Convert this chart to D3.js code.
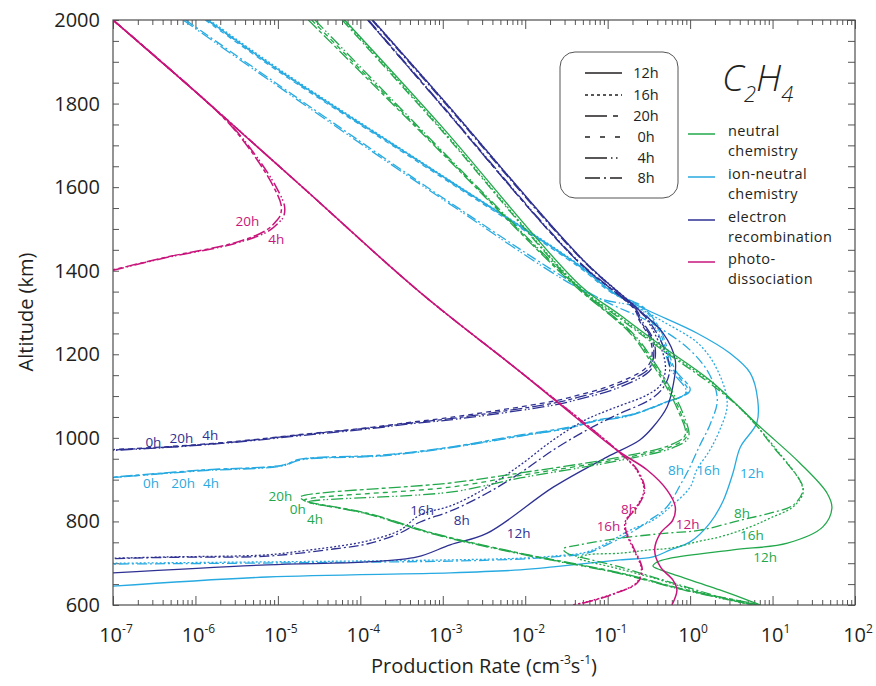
<!DOCTYPE html>
<html><head><meta charset="utf-8">
<script src="https://cdn.jsdelivr.net/npm/d3@7"></script>
<style>
body{margin:0;background:#fff}
text{font-family:'Open Sans','Noto Sans',sans-serif;fill:#231f20}
</style>
</head><body>
<svg id="c" width="876" height="686"></svg>
<script>
// ---------------- DATA ----------------
const xTickExponents = [-7,-6,-5,-4,-3,-2,-1,0,1,2];
const yTickValues = [600,800,1000,1200,1400,1600,1800,2000];
const localTimes = ["12h","16h","20h","0h","4h","8h"];
const processLabels = [["neutral","chemistry"],["ion-neutral","chemistry"],["electron","recombination"],["photo-","dissociation"]];
const speciesTitle = ["C","2","H","4"];

// points: [log10(production rate / cm^-3 s^-1), altitude km]
const neutralChemistry = [
 {time:"12h", pts:[[-4.19,2000],[-3.03,1749],[-1.34,1366],[-0.85,1294],[-0.36,1222],[0.24,1138],[0.85,1026],[1.33,940],[1.66,868],[1.72,832],[1.61,787],[1.18,748],[0.52,732],[-0.24,712],[-0.40,703],[-0.45,693],[-0.36,684],[-0.21,674],[0.36,636],[0.76,607],[0.85,600]]},
 {time:"16h", pts:[[-4.20,2000],[-3.05,1747],[-1.36,1364],[-0.85,1289],[-0.36,1217],[0.28,1129],[0.70,1052],[1.03,976],[1.34,894],[1.37,868],[1.25,835],[0.97,808],[0.73,787],[0.36,763],[0.12,753],[-0.24,736],[-0.49,732],[-0.85,724],[-1.25,720],[-1.36,712],[-1.21,703],[-0.85,686],[-0.45,665],[0.36,617],[0.78,600]]},
 {time:"8h", pts:[[-4.22,2000],[-3.06,1746],[-1.37,1363],[-0.86,1287],[-0.37,1215],[0.27,1126],[0.69,1055],[1.01,978],[1.33,899],[1.37,875],[1.25,839],[0.97,820],[0.61,803],[0.12,779],[-0.28,772],[-0.85,760],[-1.34,744],[-1.54,734],[-1.49,724],[-1.34,715],[-0.85,691],[-0.45,667],[-0.04,643],[0.36,619],[0.76,600]]},
 {time:"20h", pts:[[-4.63,2000],[-3.05,1689],[-1.44,1371],[-0.73,1251],[-0.49,1186],[-0.30,1126],[-0.15,1067],[-0.06,1007],[-0.24,983],[-0.85,954],[-2.06,916],[-2.91,892],[-4.73,858],[-4.68,850],[-4.60,845],[-3.92,820],[-3.12,772],[-2.06,724],[-0.85,677],[-0.04,636],[0.73,605],[0.85,600]]},
 {time:"0h", pts:[[-4.59,2000],[-3.02,1686],[-1.41,1368],[-0.70,1248],[-0.46,1183],[-0.27,1122],[-0.12,1063],[-0.04,1004],[-0.22,980],[-0.85,950],[-2.06,910],[-2.91,882],[-4.68,851],[-4.64,846],[-4.58,843],[-3.92,819],[-3.12,771],[-2.06,723],[-0.85,676],[-0.04,635],[0.73,604],[0.85,600]]},
 {time:"4h", pts:[[-4.55,2000],[-2.99,1683],[-1.38,1365],[-0.67,1245],[-0.43,1180],[-0.24,1119],[-0.09,1060],[-0.02,1001],[-0.20,977],[-0.85,946],[-2.06,904],[-2.91,870],[-4.62,847],[-4.60,844],[-4.55,842],[-3.92,818],[-3.12,770],[-2.06,722],[-0.85,675],[-0.04,634],[0.73,603],[0.85,600]]}
];

const ionNeutralChemistry = [
 {time:"12h", pts:[[-5.85,2000],[-4.95,1875],[-3.01,1627],[-1.32,1409],[-0.93,1347],[-0.52,1306],[0.08,1251],[0.48,1203],[0.73,1155],[0.82,1091],[0.81,1036],[0.61,978],[0.52,916],[0.40,849],[0.24,796],[0.00,751],[-0.24,732],[-0.45,715],[-0.85,708],[-1.66,691],[-2.06,684],[-2.91,677],[-5.13,667],[-7,645]]},
 {time:"16h", pts:[[-5.83,2000],[-4.93,1875],[-3.00,1627],[-1.31,1409],[-0.93,1347],[-0.36,1282],[0.12,1222],[0.36,1150],[0.45,1079],[0.36,1019],[0.24,971],[0.08,923],[0.00,882],[-0.24,835],[-0.45,803],[-0.73,779],[-1.01,748],[-1.25,727],[-1.66,717],[-2.06,712],[-2.91,708],[-7,700]]},
 {time:"8h", pts:[[-6.12,2000],[-3.01,1576],[-1.13,1337],[-0.49,1277],[0.00,1210],[0.24,1150],[0.33,1091],[0.24,1031],[0.12,983],[-0.02,923],[-0.12,887],[-0.28,835],[-0.49,803],[-0.73,772],[-1.01,744],[-1.25,724],[-1.66,715],[-2.06,710],[-2.91,705],[-7,698]]},
 {time:"20h", pts:[[-5.86,2000],[-4.96,1875],[-3.02,1627],[-1.33,1409],[-0.93,1347],[-0.57,1313],[-0.36,1258],[-0.27,1210],[-0.18,1162],[0.00,1114],[-0.33,1083],[-0.73,1055],[-1.13,1043],[-1.46,1026],[-2.06,1007],[-2.91,978],[-3.72,959],[-4.73,949],[-4.94,935],[-5.94,923],[-7,906]]},
 {time:"0h", pts:[[-5.88,2000],[-4.98,1875],[-3.04,1627],[-1.35,1409],[-0.95,1347],[-0.59,1313],[-0.38,1258],[-0.29,1210],[-0.20,1162],[-0.03,1112],[-0.35,1081],[-0.75,1053],[-1.13,1041],[-1.46,1024],[-2.06,1005],[-2.91,977],[-3.72,958],[-4.73,948],[-4.94,934],[-5.94,922],[-7,905]]},
 {time:"4h", pts:[[-6.15,2000],[-3.04,1576],[-1.14,1337],[-0.62,1310],[-0.40,1255],[-0.31,1207],[-0.22,1160],[-0.05,1110],[-0.37,1079],[-0.77,1051],[-1.15,1040],[-1.48,1023],[-2.06,1004],[-2.91,976],[-3.72,957],[-4.73,947],[-4.94,933],[-5.94,921],[-7,905]]}
];

const electronRecombination = [
 {time:"12h", pts:[[-3.85,2000],[-3.00,1810],[-1.30,1426],[-0.62,1306],[-0.33,1251],[-0.18,1186],[-0.21,1122],[-0.28,1074],[-0.45,1026],[-0.61,995],[-1.01,954],[-1.66,882],[-2.46,772],[-2.91,744],[-3.31,715],[-3.92,703],[-5.13,696],[-7,677]]},
 {time:"16h", pts:[[-3.85,2000],[-3.00,1810],[-1.30,1426],[-0.62,1306],[-0.52,1282],[-0.33,1203],[-0.30,1162],[-0.36,1126],[-0.52,1103],[-0.93,1071],[-1.27,1043],[-1.66,995],[-2.06,935],[-2.46,882],[-2.88,839],[-3.28,815],[-3.52,779],[-3.92,753],[-4.33,739],[-4.73,729],[-5.13,720],[-6.34,715],[-7,712]]},
 {time:"8h", pts:[[-3.86,2000],[-3.01,1809],[-1.31,1426],[-0.63,1306],[-0.49,1277],[-0.28,1198],[-0.25,1157],[-0.33,1119],[-0.49,1091],[-0.89,1055],[-1.25,1019],[-1.66,971],[-2.06,916],[-2.46,868],[-2.88,827],[-3.28,798],[-3.52,772],[-3.92,746],[-4.33,734],[-5.13,717],[-6.34,714],[-7,711]]},
 {time:"20h", pts:[[-3.91,2000],[-3.07,1808],[-1.38,1426],[-0.66,1306],[-0.61,1282],[-0.46,1234],[-0.45,1186],[-0.52,1162],[-0.93,1122],[-1.34,1098],[-1.66,1083],[-2.91,1046],[-3.28,1038],[-3.92,1023],[-4.73,1007],[-5.54,990],[-6.34,978],[-7,971]]},
 {time:"0h", pts:[[-3.91,2000],[-3.07,1808],[-1.38,1426],[-0.67,1306],[-0.62,1282],[-0.48,1234],[-0.47,1188],[-0.55,1165],[-0.95,1126],[-1.36,1102],[-1.68,1087],[-2.91,1049],[-3.28,1040],[-3.92,1024],[-4.73,1008],[-5.54,991],[-6.34,979],[-7,972]]},
 {time:"4h", pts:[[-3.90,2000],[-3.06,1808],[-1.37,1426],[-0.65,1306],[-0.59,1282],[-0.44,1232],[-0.43,1184],[-0.50,1158],[-0.91,1117],[-1.32,1094],[-1.64,1079],[-2.91,1043],[-3.28,1036],[-3.92,1021],[-4.73,1005],[-5.54,989],[-6.34,977],[-7,970]]}
];

const photoDissociation = [
 {time:"12h", pts:[[-7,2000],[-5.94,1818],[-4.73,1605],[-3.28,1349],[-2.06,1158],[-0.89,971],[-0.52,923],[-0.28,875],[-0.18,835],[-0.21,803],[-0.36,772],[-0.43,732],[-0.36,691],[-0.21,660],[-0.16,636],[-0.22,600]]},
 {time:"16h", pts:[[-7,2000],[-5.94,1818],[-4.73,1605],[-3.28,1349],[-2.06,1158],[-0.89,971],[-0.65,923],[-0.56,875],[-0.65,835],[-0.78,803],[-0.79,779],[-0.70,739],[-0.59,684],[-0.65,653],[-0.90,629],[-1.26,607],[-1.43,600]]},
 {time:"8h", pts:[[-7,2000],[-5.94,1818],[-4.73,1605],[-3.28,1349],[-2.06,1158],[-0.89,971],[-0.64,923],[-0.55,875],[-0.64,835],[-0.77,803],[-0.78,779],[-0.69,739],[-0.58,684],[-0.64,653],[-0.89,629],[-1.25,607],[-1.42,600]]},
 {time:"20h", pts:[[-7,2000],[-5.94,1818],[-5.56,1745],[-5.25,1665],[-5.05,1600],[-4.96,1557],[-4.97,1533],[-5.01,1521],[-5.14,1497],[-5.54,1466],[-6.34,1433],[-7,1402]]},
 {time:"4h", pts:[[-7,2000],[-5.94,1818],[-5.55,1745],[-5.23,1665],[-5.02,1600],[-4.92,1555],[-4.93,1530],[-4.98,1517],[-5.12,1494],[-5.54,1464],[-6.34,1432],[-7,1401]]}
];

// curve labels: [text, log10 rate, altitude]
const neutralLabels = [["20h",-4.97,860],["0h",-4.76,830],["4h",-4.55,805],["8h",0.63,820],["16h",0.75,767],["12h",0.91,715]];
const ionLabels = [["0h",-6.54,892],["20h",-6.15,892],["4h",-5.81,892],["8h",-0.17,923],["16h",0.22,923],["12h",0.75,916]];
const electronLabels = [["0h",-6.51,990],["20h",-6.17,999],["4h",-5.82,1007],["16h",-3.25,827],["8h",-2.77,803],["12h",-2.08,772]];
const photoLabels = [["20h",-5.37,1519],["4h",-5.02,1476],["8h",-0.74,830],["16h",-0.99,790],["12h",-0.03,794]];

// ---------------- STYLE ----------------
const colors = {neutral:"#22a84b", ion:"#27aae1", electron:"#2e3192", photo:"#c8157b"};
const curveDash = {"12h":null,"16h":"2,2","20h":"12,3,4,3","0h":"5,4","4h":"12,3,1.5,2,1.5,3","8h":"10,3,2,3"};
const legendDash = {"12h":null,"16h":"3,3","20h":"22,6,5,10","0h":"5,10","4h":"22,4,1.5,3.5,1.5,10","8h":"15,4,2,4,12"};

const svg = d3.select("#c");
const X0=113, X1=855, Y0=20, Y1=605;
const x = d3.scaleLog().domain([1e-7,1e2]).range([X0,X1]);
const y = d3.scaleLinear().domain([600,2000]).range([Y1,Y0]);

svg.append("defs").append("clipPath").attr("id","plotclip")
  .append("rect").attr("x",X0).attr("y",Y0).attr("width",X1-X0).attr("height",Y1-Y0);

// ticks
const minors=[];
for(let e=-7;e<2;e++) for(let m=2;m<10;m++) minors.push(m*Math.pow(10,e));
const majors = xTickExponents.map(e=>Math.pow(10,e));
const yMinor = d3.range(600,2001,50);
const tickCol="#555";
function styleAxis(g){ g.select(".domain").remove(); g.selectAll("line").attr("stroke",tickCol).attr("stroke-width",1); g.selectAll("text").remove(); }
svg.append("g").attr("transform",`translate(0,${Y1})`).call(d3.axisBottom(x).tickValues(minors).tickSize(-5)).call(styleAxis);
svg.append("g").attr("transform",`translate(0,${Y1})`).call(d3.axisBottom(x).tickValues(majors).tickSize(-9)).call(styleAxis);
svg.append("g").attr("transform",`translate(0,${Y0})`).call(d3.axisTop(x).tickValues(minors).tickSize(-5)).call(styleAxis);
svg.append("g").attr("transform",`translate(0,${Y0})`).call(d3.axisTop(x).tickValues(majors).tickSize(-9)).call(styleAxis);
svg.append("g").attr("transform",`translate(${X0},0)`).call(d3.axisLeft(y).tickValues(yMinor).tickSize(-6)).call(styleAxis);
svg.append("g").attr("transform",`translate(${X1},0)`).call(d3.axisRight(y).tickValues(yMinor).tickSize(-7)).call(styleAxis);

// curves
const line = d3.line().x(d=>x(Math.pow(10,d[0]))).y(d=>y(d[1])).curve(d3.curveCatmullRom.alpha(0.5));
const plot = svg.append("g").attr("clip-path","url(#plotclip)");
function drawGroup(series, color, width){
  plot.append("g").selectAll("path").data(series).join("path")
    .attr("d",d=>line(d.pts)).attr("fill","none").attr("stroke",color)
    .attr("stroke-width",width).attr("stroke-dasharray",d=>curveDash[d.time]);
}
drawGroup(ionNeutralChemistry, colors.ion, 1.3);
drawGroup(electronRecombination, colors.electron, 1.3);
drawGroup(neutralChemistry, colors.neutral, 1.3);
drawGroup(photoDissociation, colors.photo, 1.5);

function drawLabels(labels,color){
  svg.append("g").selectAll("text").data(labels).join("text")
    .attr("x",d=>x(Math.pow(10,d[1]))).attr("y",d=>y(d[2])+5)
    .attr("text-anchor","middle").attr("font-size",13.5).style("fill",color).text(d=>d[0]);
}
drawLabels(neutralLabels,colors.neutral);
drawLabels(ionLabels,colors.ion);
drawLabels(electronLabels,colors.electron);
drawLabels(photoLabels,colors.photo);

// frame
svg.append("rect").attr("x",X0).attr("y",Y0).attr("width",X1-X0).attr("height",Y1-Y0)
  .attr("fill","none").attr("stroke","#4d4d4d").attr("stroke-width",1.2);

// tick labels
svg.append("g").selectAll("text").data(yTickValues).join("text")
  .attr("x",X0-13).attr("y",d=>y(d)+7).attr("text-anchor","end").attr("font-size",20).text(d=>d);
const xl = svg.append("g").selectAll("text").data(xTickExponents).join("text")
  .attr("x",d=>x(Math.pow(10,d))+3).attr("y",642).attr("text-anchor","middle").attr("font-size",20);
xl.append("tspan").text("10");
xl.append("tspan").attr("font-size",12).attr("dy",-9).text(d=>d<0?"-"+(-d):String(d));

// axis titles
svg.append("text").attr("transform","translate(33,312) rotate(-90)").attr("text-anchor","middle").attr("font-size",20).text("Altitude (km)");
const xt = svg.append("text").attr("x",484).attr("y",673).attr("text-anchor","middle").attr("font-size",20);
xt.append("tspan").text("Production Rate (cm");
xt.append("tspan").attr("font-size",12).attr("dy",-9).text("-3");
xt.append("tspan").attr("dy",9).text("s");
xt.append("tspan").attr("font-size",12).attr("dy",-9).text("-1");
xt.append("tspan").attr("dy",9).text(")");

// time legend
svg.append("rect").attr("x",560).attr("y",52).attr("width",118).attr("height",146).attr("rx",15)
  .attr("fill","#fff").attr("stroke","#555").attr("stroke-width",1);
const lg = svg.append("g").selectAll("g").data(localTimes).join("g")
  .attr("transform",(d,i)=>`translate(0,${[73,95,116,137,158,178][i]})`);
lg.append("line").attr("x1",585).attr("x2",622).attr("stroke","#231f20").attr("stroke-width",1.3)
  .attr("stroke-dasharray",d=>legendDash[d]);
lg.append("text").attr("x",646).attr("y",5).attr("text-anchor","middle").attr("font-size",14.5).text(d=>d);

// title
const tt = svg.append("text").attr("x",722).attr("y",91).attr("font-size",37).attr("font-style","italic").attr("font-weight",300);
tt.append("tspan").text(speciesTitle[0]);
tt.append("tspan").attr("font-size",22).attr("dy",11).text(speciesTitle[1]);
tt.append("tspan").attr("dy",-11).text(speciesTitle[2]);
tt.append("tspan").attr("font-size",22).attr("dy",11).text(speciesTitle[3]);

// process legend
const procColors=[colors.neutral,colors.ion,colors.electron,colors.photo];
const procY=[134,177,220,262];
const pg = svg.append("g").selectAll("g").data(processLabels).join("g")
  .attr("transform",(d,i)=>`translate(0,${procY[i]})`);
pg.append("line").attr("x1",688).attr("x2",715).attr("stroke",(d,i)=>procColors[i]).attr("stroke-width",1.5);
pg.append("text").attr("x",728).attr("y",2).attr("font-size",14.5).attr("letter-spacing",0.4).text(d=>d[0]);
pg.append("text").attr("x",728).attr("y",21.8).attr("font-size",14.5).attr("letter-spacing",0.4).text(d=>d[1]);
</script>
</body></html>
